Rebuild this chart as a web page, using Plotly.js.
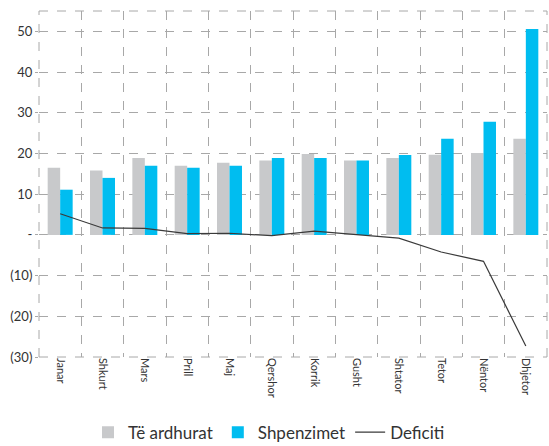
<!DOCTYPE html>
<html>
<head>
<meta charset="utf-8">
<script src="https://cdn.plot.ly/plotly-3.0.1.min.js"></script>
<style>html,body{margin:0;padding:0;background:#fff;}#chart{width:549px;height:446px;}</style>
</head>
<body>
<div id="chart"></div>
<script>
const months = ["Janar","Shkurt","Mars","Prill","Maj","Qershor","Korrik","Gusht","Shtator","Tetor","Nëntor","Dhjetor"];
const teArdhurat = [16.5, 15.8, 18.9, 17.0, 17.7, 18.3, 19.9, 18.3, 18.9, 19.7, 20.1, 23.6];
const shpenzimet = [11.1, 14.0, 17.0, 16.5, 17.0, 18.9, 18.9, 18.3, 19.6, 23.6, 27.8, 50.6];
const deficiti = [5.2, 1.7, 1.6, 0.3, 0.4, -0.2, 0.9, 0.0, -0.8, -4.2, -6.5, -27.3];
const yTickVals = [50, 40, 30, 20, 10, 0, -10, -20, -30];
const yTickText = ["50", "40", "30", "20", "10", "-", "(10)", "(20)", "(30)"];

const font = "Lato, 'DejaVu Sans', sans-serif";
const gridCol = "#a8a8a8";
const data = [
  {type: "bar", name: "Të ardhurat", x: months, y: teArdhurat, marker: {color: "#c8c9cb"}},
  {type: "bar", name: "Shpenzimet", x: months, y: shpenzimet, marker: {color: "#00bdf0"}},
  {type: "scatter", mode: "lines", name: "Deficiti", x: months, y: deficiti, line: {color: "#3a3a3a", width: 1.2}}
];
function border(x0, x1, y0, y1) {
  return {type: "line", xref: "paper", yref: "paper", x0: x0, x1: x1, y0: y0, y1: y1, line: {color: gridCol, width: 1, dash: "dash"}};
}
const layout = {
  width: 549, height: 446,
  margin: {l: 39, r: 2, t: 11, b: 89},
  paper_bgcolor: "#fff", plot_bgcolor: "#fff",
  font: {family: font, color: "#333", size: 12},
  barmode: "group", bargap: 0.41, bargroupgap: 0,
  showlegend: true,
  legend: {orientation: "h", xref: "container", yref: "container", x: 0.49, xanchor: "center", y: 0.03, yanchor: "middle",
           font: {size: 17, color: "#333"}, itemwidth: 30, traceorder: "normal"},
  xaxis: {
    type: "category", tickangle: 90, tickson: "boundaries",
    showgrid: true, gridcolor: gridCol, griddash: "dash", gridwidth: 1,
    showline: false, ticks: "", tickfont: {size: 11, color: "#333"}, automargin: false
  },
  yaxis: {
    range: [-30, 55], tickvals: yTickVals, ticktext: yTickText,
    showgrid: true, gridcolor: gridCol, griddash: "dash", gridwidth: 1,
    zeroline: false, showline: false,
    ticks: "outside", ticklen: 3, tickcolor: gridCol,
    tickfont: {size: 13, color: "#333"}, automargin: false
  },
  shapes: [border(0, 1, 1, 1), border(1, 1, 0, 1), border(0, 1, 0, 0), border(0, 0, 0, 1)]
};
Plotly.newPlot("chart", data, layout, {displayModeBar: false, staticPlot: true});
</script>
</body>
</html>
